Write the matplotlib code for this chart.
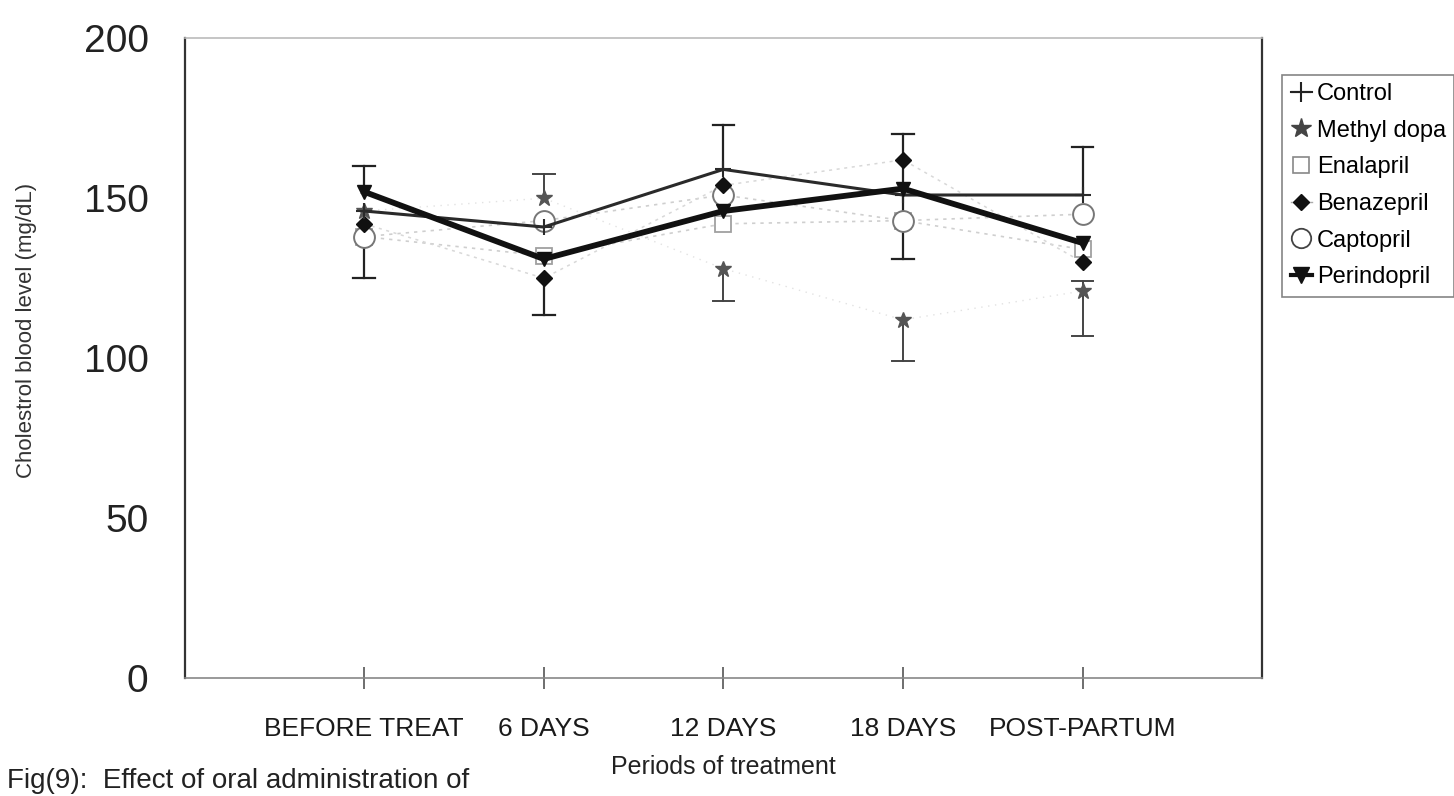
import numpy as np
import matplotlib
matplotlib.use("Agg")
import matplotlib.pyplot as plt
from matplotlib.lines import Line2D

plt.rcParams['font.family'] = ['Liberation Sans', 'DejaVu Sans']

periods = ["BEFORE TREAT", "6 DAYS", "12 DAYS", "18 DAYS", "POST-PARTUM"]

control     = [146, 141, 159, 151, 151]
methyl_dopa = [146, 150, 128, 112, 121]
enalapril   = [138, 132, 142, 143, 134]
benazepril  = [142, 125, 154, 162, 130]
captopril   = [138, 143, 151, 143, 145]
perindopril = [152, 131, 146, 153, 136]

nan = np.nan
# error bars (lower, upper) per series; NaN = not visible
control_err_lo     = [nan, nan, nan, 20, nan]
control_err_hi     = [nan, nan, 14, 19, 15]
methyl_err_lo      = [nan, nan, 10, 13, 14]
methyl_err_hi      = [nan, 7.5, nan, nan, 3]
enalapril_err_lo   = [13, nan, nan, nan, nan]
benazepril_err_lo  = [nan, 11.5, nan, nan, nan]
perindopril_err_hi = [8, nan, nan, nan, nan]

yticks = [0, 50, 100, 150, 200]

fig = plt.figure(figsize=(14.54, 7.96), dpi=100)
ax = fig.add_axes([0.127, 0.148, 0.741, 0.804])

x = np.arange(len(periods))

def err(ax, vals, lo, hi, color='#222222', lw=1.6):
    for xi, v, l, h in zip(x, vals, lo, hi):
        if not np.isnan(h):
            ax.plot([xi, xi], [v, v + h], color=color, lw=lw, zorder=2)
            ax.plot([xi - 0.06, xi + 0.06], [v + h, v + h], color=color, lw=lw, zorder=2)
        if not np.isnan(l):
            ax.plot([xi, xi], [v, v - l], color=color, lw=lw, zorder=2)
            ax.plot([xi - 0.06, xi + 0.06], [v - l, v - l], color=color, lw=lw, zorder=2)

none = [nan] * 5
err(ax, control, control_err_lo, control_err_hi)
err(ax, methyl_dopa, methyl_err_lo, methyl_err_hi, color='#444444', lw=1.4)
err(ax, enalapril, enalapril_err_lo, none)
err(ax, benazepril, benazepril_err_lo, none)
err(ax, perindopril, none, perindopril_err_hi)

# faint dotted series
ax.plot(x, enalapril, ls=(0, (2, 3)), color='#cfcfcf', lw=1.2, marker='s', ms=12,
        mfc='white', mec='#a0a0a0', mew=1.3, zorder=3, label='Enalapril')
ax.plot(x, captopril, ls=(0, (2, 3)), color='#cfcfcf', lw=1.2, marker='o', ms=15,
        mfc='white', mec='#777777', mew=1.4, zorder=3, label='Captopril')
ax.plot(x, methyl_dopa, ls=(0, (1, 4)), color='#e2e2e2', lw=1.0, marker='*', ms=12,
        mfc='#555555', mec='#555555', zorder=4, label='Methyl dopa')
ax.plot(x, benazepril, ls=(0, (2, 3)), color='#d8d8d8', lw=1.1, marker='D', ms=8,
        mfc='#111111', mec='#111111', zorder=4, label='Benazepril')
ax.plot(x, control, ls='-', color='#2a2a2a', lw=2.2, marker='+', ms=12,
        mec='#2a2a2a', mew=1.5, zorder=5, label='Control')
ax.plot(x, perindopril, ls='-', color='#111111', lw=4.2, marker='v', ms=10,
        mfc='#111111', mec='#111111', zorder=6, label='Perindopril')

ax.set_xlim(-1, 5)
ax.set_ylim(0, 200)
ax.set_xticks(x)
ax.set_xticklabels(periods, fontsize=19, color='#1a1a1a')
ax.set_yticks(yticks)
ax.set_yticklabels([str(v) for v in yticks], fontsize=28, color='#222222')
ax.tick_params(axis='y', length=0, pad=26)
ax.tick_params(axis='x', direction='inout', length=16, width=1.2, color='#555555', pad=20)

for s in ['left', 'right']:
    ax.spines[s].set_color('#333333')
    ax.spines[s].set_linewidth(1.6)
ax.spines['top'].set_color('#bbbbbb')
ax.spines['top'].set_linewidth(1.2)
ax.spines['bottom'].set_color('#888888')
ax.spines['bottom'].set_linewidth(1.2)

ax.set_ylabel("Cholestrol blood level (mg/dL)", fontsize=16, color='#333333')
ax.yaxis.set_label_coords(-0.137, 0.544)
ax.set_xlabel("Periods of treatment", fontsize=18, color='#222222', labelpad=10)

handles = [
    Line2D([], [], color='#222222', lw=1.5, marker='+', ms=14, mew=1.5),
    Line2D([], [], color='none', marker='*', ms=15, mfc='#444444', mec='#444444'),
    Line2D([], [], color='none', marker='s', ms=12, mfc='white', mec='#888888', mew=1.2),
    Line2D([], [], color='#aaaaaa', lw=1.0, marker='D', ms=8, mfc='#111111', mec='#111111'),
    Line2D([], [], color='none', marker='o', ms=14, mfc='white', mec='#444444', mew=1.3),
    Line2D([], [], color='#111111', lw=3.0, marker='v', ms=11, mfc='#111111', mec='#111111'),
]
labels = ["Control", "Methyl dopa", "Enalapril", "Benazepril", "Captopril", "Perindopril"]
leg = fig.legend(handles, labels, loc='upper left', bbox_to_anchor=(0.882, 0.906),
                 fontsize=17, frameon=True, fancybox=False, edgecolor='#666666',
                 handlelength=0.9, handletextpad=0.2, labelspacing=0.62,
                 borderpad=0.35, borderaxespad=0.0)
leg.get_frame().set_linewidth(1.2)

fig.text(0.005, 0.003, "Fig(9):  Effect of oral administration of", fontsize=20,
         color='#222222', ha='left', va='bottom')

fig.savefig("out.png", dpi=100, facecolor='white')
